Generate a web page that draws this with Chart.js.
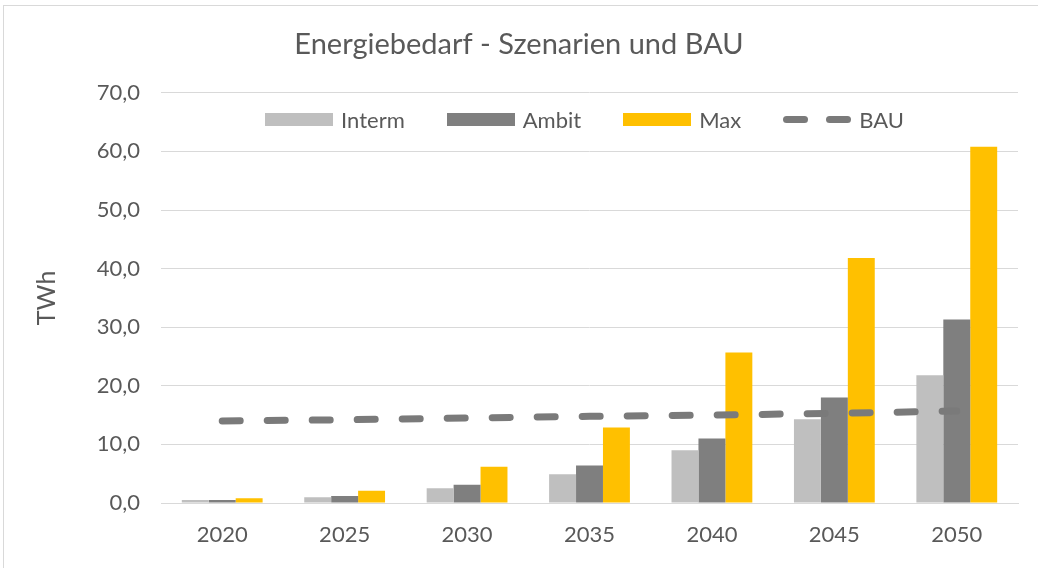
<!DOCTYPE html>
<html>
<head>
<meta charset="utf-8">
<script src="https://cdn.jsdelivr.net/npm/chart.js@4.4.0/dist/chart.umd.min.js"></script>
<style>
    html, body { margin: 0; padding: 0; background: #ffffff; }
    .GraficoEnergie { position: relative; width: 1038px; height: 568px; overflow: hidden; }
    .moldura { position: absolute; left: 3px; top: 5px; width: 1040px; height: 570px; border: 1px solid #d9d9d9; }
    .legenda { position: absolute; top: 106px; display: flex; justify-content: center; align-items: center;
               font-family: Lato, "Open Sans", sans-serif; font-size: 22px; color: #595959; }
    .legenda .item { display: flex; align-items: center; margin: 0 21px; }
    .legenda .caixa { width: 68px; height: 13px; margin-right: 8px; position: relative; }
    .legenda .traco { position: absolute; top: 3px; width: 25px; height: 7px; border-radius: 3.5px; }
</style>
</head>
<body>
<div class="GraficoEnergie">
    <div class="moldura"></div>
    <canvas id="GraficoEnergie" style="position:absolute; left:0; top:0; width:1038px; height:568px;"></canvas>
    <div class="legenda" id="legendaEnergie"></div>
</div>
<script>
// dados
var anos = ['2020', '2025', '2030', '2035', '2040', '2045', '2050'];
var interm = [0.5, 1.0, 2.5, 4.9, 9.0, 14.3, 21.8];
var ambit = [0.5, 1.2, 3.1, 6.4, 11.0, 18.0, 31.3];
var maxi = [0.8, 2.1, 6.2, 12.9, 25.7, 41.8, 60.8];
var bau = [14.0, 14.2, 14.5, 14.8, 15.0, 15.3, 15.7];

var corTexto = '#595959';
var fonte = 'Lato, "Open Sans", sans-serif';

var ctx = document.getElementById('GraficoEnergie').getContext('2d');

var grafico = new Chart(ctx, {
    type: 'bar',
    data:
    {
        labels: anos,
        datasets:
            [{
                label: 'Interm',
                backgroundColor: '#bfbfbf',
                data: interm,
                order: 1
            },
            {
                label: 'Ambit',
                backgroundColor: '#7f7f7f',
                data: ambit,
                order: 1
            },
            {
                label: 'Max',
                backgroundColor: '#ffc000',
                data: maxi,
                order: 1
            },
            {
                type: 'line',
                label: 'BAU',
                data: bau,
                borderColor: '#7a7a7a',
                backgroundColor: '#7a7a7a',
                borderWidth: 7,
                borderDash: [18, 27],
                borderCapStyle: 'round',
                pointRadius: 0,
                pointHoverRadius: 0,
                fill: false,
                tension: 0,
                order: 0
            }]
    },
    options:
    {
        responsive: false,
        animation: false,
        datasets: {
            bar: { categoryPercentage: 0.66, barPercentage: 1.0 }
        },
        layout: { padding: { left: 20, right: 20, top: 0, bottom: 5 } },
        plugins: {
            title: {
                display: true,
                text: 'Energiebedarf - Szenarien und BAU',
                color: corTexto,
                font: { family: fonte, size: 29, weight: 'normal' },
                padding: { top: 27, bottom: 31 }
            },
            legend: { display: false },
            tooltip: { enabled: false }
        },
        scales: {
            x: {
                grid: { display: false, drawTicks: false },
                border: { display: true, color: '#d9d9d9', width: 1 },
                ticks: { color: corTexto, font: { family: fonte, size: 22 }, padding: 19 },
                afterFit: function (escala) { escala.height = 60; }
            },
            y: {
                min: 0,
                max: 70,
                ticks: {
                    stepSize: 10,
                    color: corTexto,
                    font: { family: fonte, size: 22 },
                    padding: 21,
                    callback: function (valor) { return valor.toFixed(1).replace('.', ','); }
                },
                grid: { color: '#d9d9d9', lineWidth: 1, drawTicks: false },
                border: { display: false },
                title: {
                    display: true,
                    text: 'TWh',
                    color: corTexto,
                    font: { family: fonte, size: 25 },
                    padding: { top: 12, bottom: 0 }
                },
                afterFit: function (escala) { escala.width = 141; }
            }
        }
    }
});

// legenda montada a partir dos datasets, dentro da área do gráfico
function MontarLegenda() {
    var area = grafico.chartArea;
    var div = document.getElementById('legendaEnergie');
    div.style.left = area.left + 'px';
    div.style.width = (area.right - area.left - 10) + 'px';

    grafico.data.datasets.forEach(function (ds) {
        var item = document.createElement('div');
        item.className = 'item';
        var caixa = document.createElement('span');
        caixa.className = 'caixa';
        if (ds.type === 'line') {
            [0, 43].forEach(function (x) {
                var t = document.createElement('span');
                t.className = 'traco';
                t.style.left = x + 'px';
                t.style.background = ds.borderColor;
                caixa.appendChild(t);
            });
        } else {
            caixa.style.background = ds.backgroundColor;
        }
        var texto = document.createElement('span');
        texto.textContent = ds.label;
        item.appendChild(caixa);
        item.appendChild(texto);
        div.appendChild(item);
    });
}

MontarLegenda();
</script>
</body>
</html>
